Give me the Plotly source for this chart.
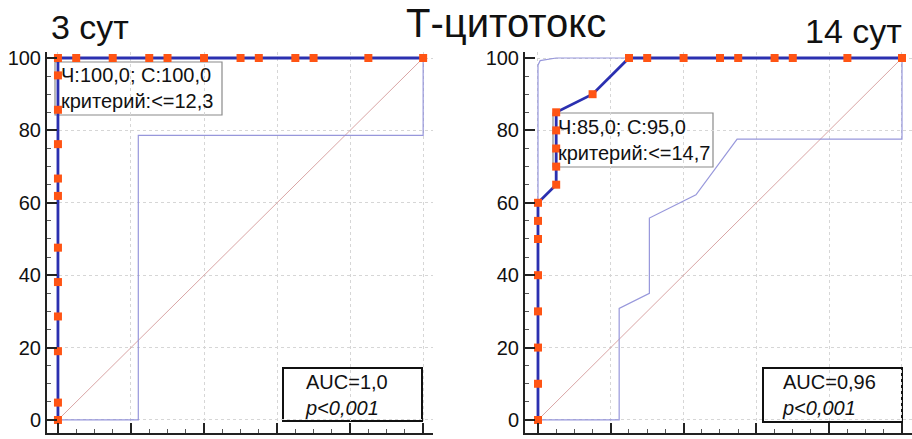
import plotly.graph_objects as go

# ---------------- data ----------------
diag_x = [0, 100]
diag_y = [0, 100]

# 3 сут
roc3_x = [0, 0, 0, 0, 0, 0, 0, 0, 0, 0, 0, 0, 5, 15, 25, 30, 40, 50, 55, 65, 70, 85, 100]
roc3_y = [0, 4.8, 19.0, 28.6, 38.1, 47.6, 61.9, 66.7, 76.2, 85.7, 95.2, 100,
          100, 100, 100, 100, 100, 100, 100, 100, 100, 100, 100]
ci3_lo_x = [0, 22, 22, 100, 100]
ci3_lo_y = [0, 0, 78.6, 78.6, 100]
ci3_hi_x = [0, 0, 100]
ci3_hi_y = [0, 100, 100]

# 14 сут
roc14_x = [0, 0, 0, 0, 0, 0, 0, 0, 5, 5, 5, 5, 5, 15, 25, 30, 40, 50, 55, 65, 70, 85, 100]
roc14_y = [0, 10, 20, 30, 40, 50, 55, 60, 65, 70, 75, 80, 85, 90, 100,
           100, 100, 100, 100, 100, 100, 100, 100]
ci14_lo_x = [0, 22.3, 22.3, 30.6, 30.6, 43.4, 54.7, 100, 100]
ci14_lo_y = [0, 0, 30.8, 35, 55.8, 62.2, 77.6, 77.6, 100]
ci14_hi_x = [0, 0, 0.6, 5, 100]
ci14_hi_y = [0, 98, 99.3, 100, 100]

y_ticks = [0, 20, 40, 60, 80, 100]
y_tick_labels = ["0", "20", "40", "60", "80", "100"]

title_main = "Т-цитотокс"
title_left = "3 сут"
title_right = "14 сут"
crit_left = "Ч:100,0; С:100,0<br>критерий:<=12,3"
crit_right = "Ч:85,0; С:95,0<br>критерий:<=14,7"
auc_left = "AUC=1,0<br><i>p<0,001</i>"
auc_right = "AUC=0,96<br><i>p<0,001</i>"

# ---------------- styles / layout helpers ----------------
FONT = "Liberation Sans, Arial, sans-serif"
ROC_COLOR = "#2b30b0"
MARK_COLOR = "#ff5414"
CI_COLOR = "rgba(140,140,215,0.9)"
DIAG_COLOR = "rgba(215,160,160,0.95)"
FW, FH = 912, 439


def px(x):
    return x / FW


def py(y):
    return 1 - y / FH


fig = go.Figure()


def add_panel(xa, ya, roc_x, roc_y, lo_x, lo_y, hi_x, hi_y):
    fig.add_trace(go.Scatter(x=diag_x, y=diag_y, mode="lines", xaxis=xa, yaxis=ya,
                             line=dict(color=DIAG_COLOR, width=1), hoverinfo="skip"))
    fig.add_trace(go.Scatter(x=lo_x, y=lo_y, mode="lines", xaxis=xa, yaxis=ya,
                             line=dict(color=CI_COLOR, width=1.2), hoverinfo="skip"))
    fig.add_trace(go.Scatter(x=hi_x, y=hi_y, mode="lines", xaxis=xa, yaxis=ya,
                             line=dict(color=CI_COLOR, width=1.2), hoverinfo="skip"))
    fig.add_trace(go.Scatter(x=roc_x, y=roc_y, mode="lines+markers", xaxis=xa, yaxis=ya,
                             line=dict(color=ROC_COLOR, width=2.8),
                             marker=dict(symbol="square", size=8, color=MARK_COLOR,
                                         line=dict(width=0))))


add_panel("x", "y", roc3_x, roc3_y, ci3_lo_x, ci3_lo_y, ci3_hi_x, ci3_hi_y)
add_panel("x2", "y2", roc14_x, roc14_y, ci14_lo_x, ci14_lo_y, ci14_hi_x, ci14_hi_y)

ydom = [py(433), py(52)]
yr = [-3.6, 101.66]

common_x = dict(showline=True, linecolor="#222", linewidth=2, ticks="inside", ticklen=10,
                tickwidth=2, tickcolor="#222", tick0=0, dtick=20, showticklabels=False,
                showgrid=True, gridcolor="#d6d6d6", griddash="dot", gridwidth=1,
                zeroline=False, automargin=False,
                minor=dict(ticks="inside", ticklen=4, tickwidth=1, tickcolor="#555",
                           dtick=5, tick0=0, showgrid=False))
common_y = dict(showline=True, linecolor="#222", linewidth=2, ticks="inside", ticklen=10,
                tickwidth=2, tickcolor="#222", tickvals=y_ticks, ticktext=y_tick_labels,
                tickfont=dict(family=FONT, size=20, color="#111"),
                showgrid=True, gridcolor="#d6d6d6", griddash="dot", gridwidth=1,
                zeroline=False, range=yr, domain=ydom, automargin=False,
                minor=dict(ticks="inside", ticklen=4, tickwidth=1, tickcolor="#555",
                           dtick=5, tick0=0, showgrid=False))

fig.update_layout(
    width=FW, height=FH, margin=dict(l=0, r=0, t=0, b=0, pad=0), autosize=False,
    paper_bgcolor="white", plot_bgcolor="white", showlegend=False,
    font=dict(family=FONT, color="#111"),
    xaxis=dict(domain=[px(47), px(433)], range=[-3.0, 102.7], anchor="y", **common_x),
    yaxis=dict(anchor="x", **common_y),
    xaxis2=dict(domain=[px(525), 1.0], range=[-3.57, 102.75], anchor="y2", **common_x),
    yaxis2=dict(anchor="x2", **common_y),
)

# Titles
fig.add_annotation(text=title_main, xref="paper", yref="paper", x=px(506), y=py(1),
                   xanchor="center", yanchor="top", showarrow=False, borderpad=0,
                   borderwidth=0, font=dict(family=FONT, size=40, color="#111"))
fig.add_annotation(text=title_left, xref="paper", yref="paper", x=px(49), y=py(27),
                   xanchor="left", yanchor="middle", showarrow=False,
                   font=dict(family=FONT, size=34, color="#111"))
fig.add_annotation(text=title_right, xref="paper", yref="paper", x=px(904), y=py(31.5),
                   xanchor="right", yanchor="middle", showarrow=False,
                   font=dict(family=FONT, size=34, color="#111"))

# Boxes (criterion + AUC): white boxes drawn between the grid and the traces
boxes = [
    (55, 62, 222, 115, "#8a8a8a", 1.2),
    (553, 113, 713, 167, "#8a8a8a", 1.2),
    (283, 368, 422, 421, "#111", 2),
    (763, 368, 902, 422, "#111", 2),
]
for x0, y0, x1, y1, c, w in boxes:
    fig.add_shape(type="rect", xref="paper", yref="paper",
                  x0=px(x0), x1=px(x1), y0=py(y1), y1=py(y0),
                  line=dict(color=c, width=w), fillcolor="white", layer="between")

texts = [
    (crit_left, 59, 88),
    (crit_right, 556, 140),
    (auc_left, 303, 395),
    (auc_right, 780, 395),
]
for t, x, y in texts:
    fig.add_annotation(text=t, xref="paper", yref="paper", x=px(x), y=py(y),
                       xanchor="left", yanchor="middle", align="left", showarrow=False,
                       font=dict(family=FONT, size=20, color="#111"))

# remove the browser's default page margin so the figure fills the window exactly
fig.write_html("out.html", config={"displayModeBar": False},
               post_script="document.body.style.margin='0px';")
